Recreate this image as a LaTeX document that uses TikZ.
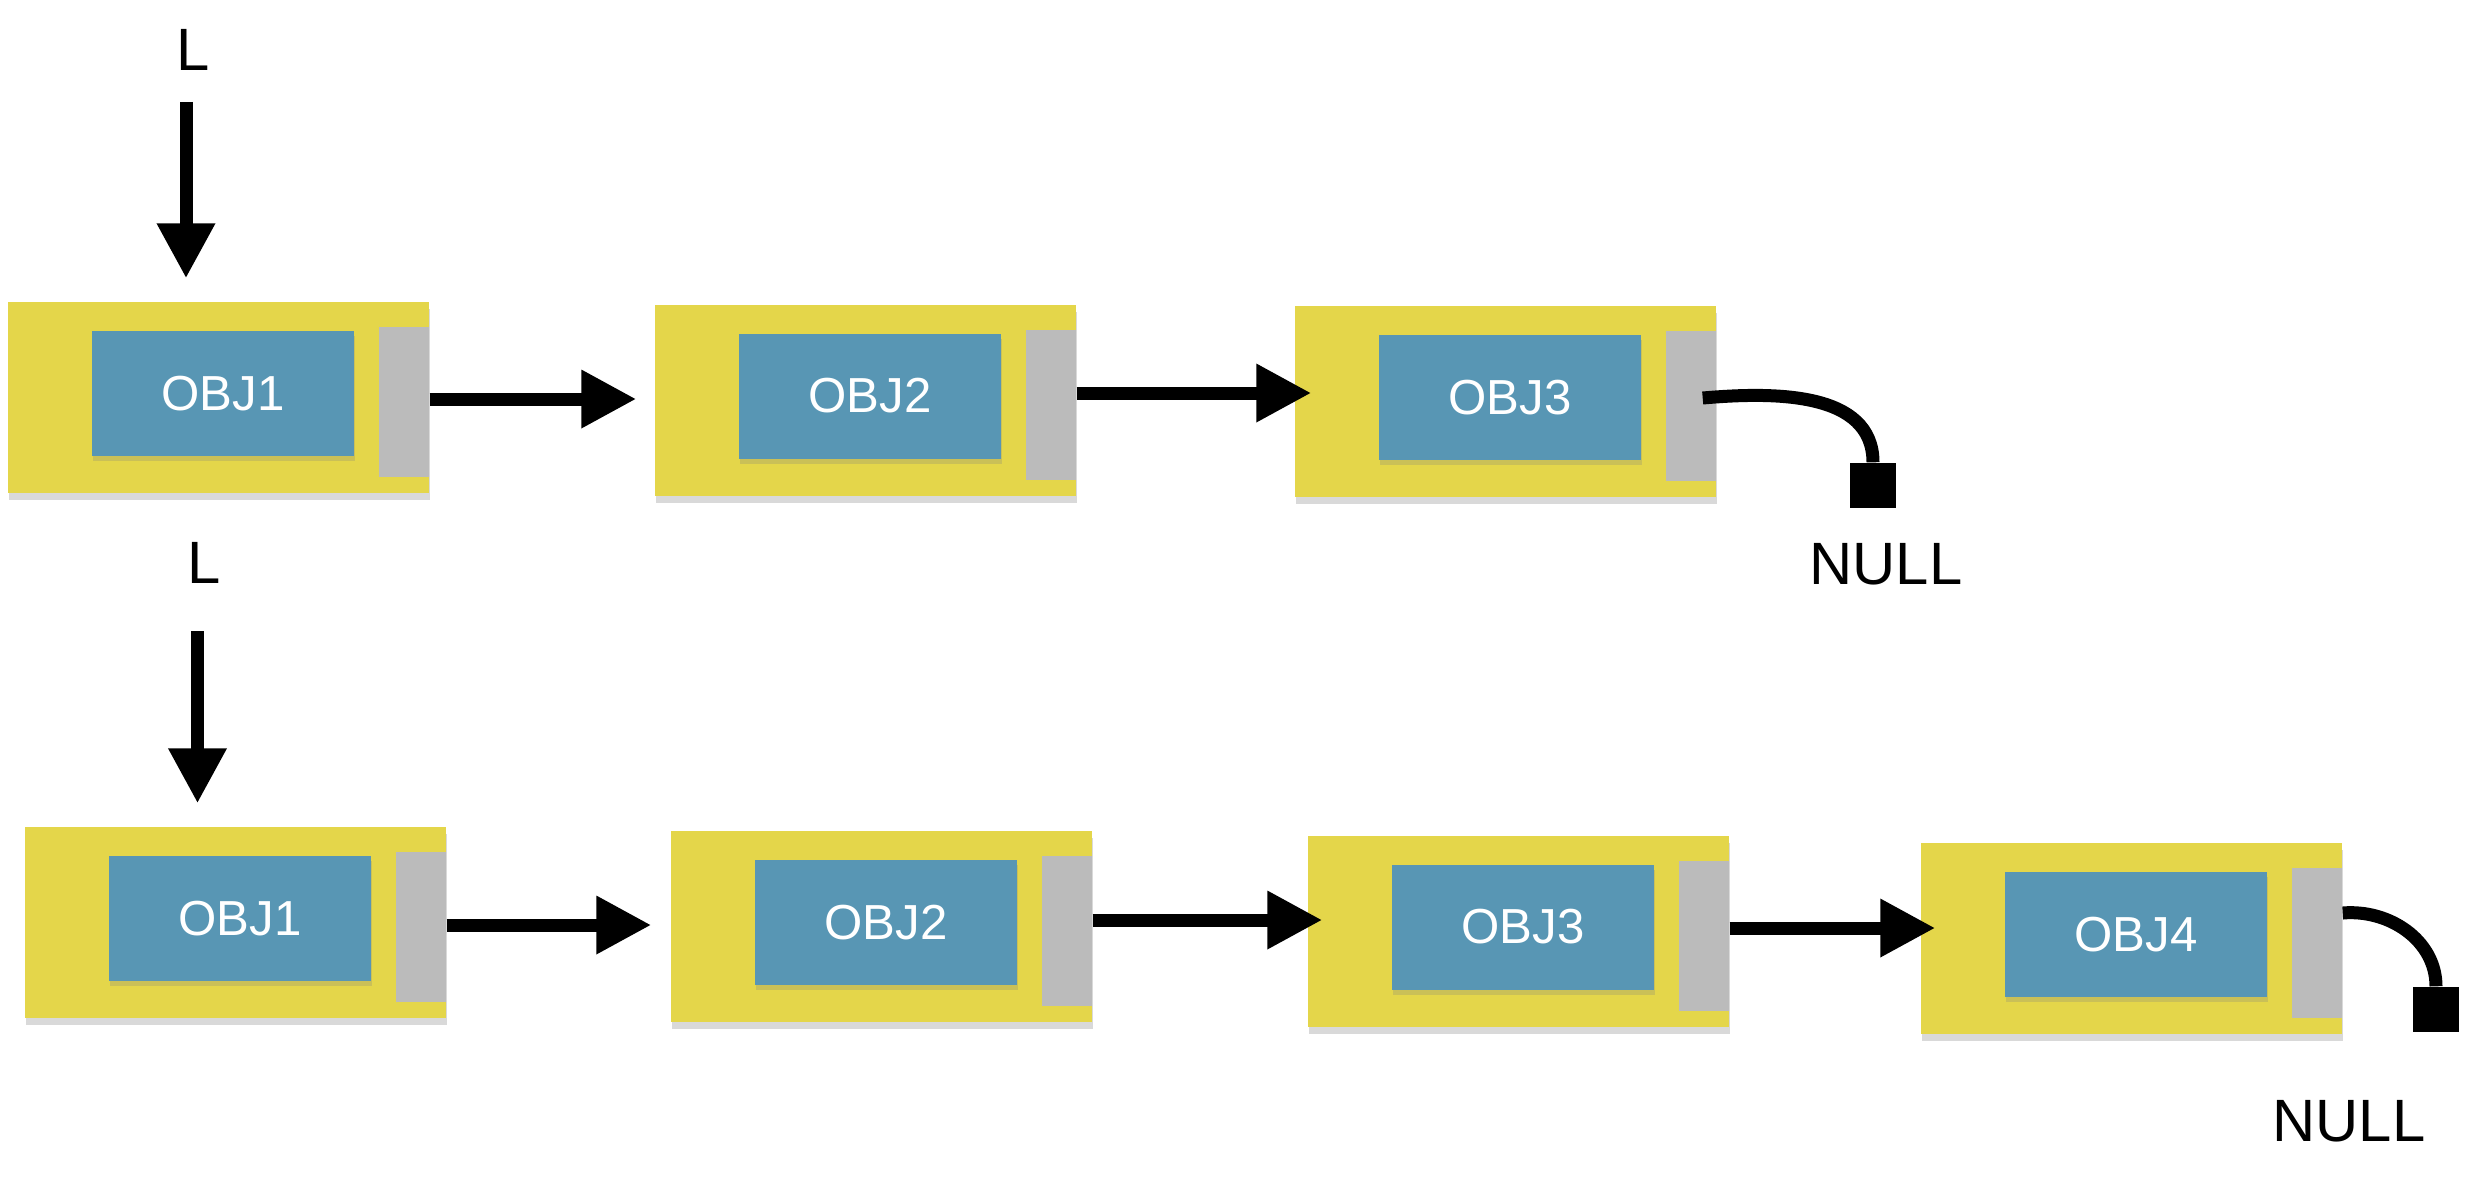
\documentclass[tikz,border=0pt]{standalone}
\usepackage{fontspec}
\setmainfont{Liberation Sans}
\usetikzlibrary{arrows.meta,shadows}
\definecolor{cellyellow}{HTML}{E4D64A}
\definecolor{objblue}{HTML}{5896B4}
\definecolor{ptrgray}{HTML}{BBBBBB}
\tikzstyle{list_node}=[rectangle,
                       minimum width=4.21cm,
                       minimum height=1.91cm,
                       inner sep=0,
                       fill=cellyellow,
                       drop shadow={shadow xshift=0.01cm, shadow yshift=-0.07cm, opacity=0.3}]
\tikzstyle{obj_box}=[rectangle,
                     minimum width=2.62cm,
                     minimum height=1.25cm,
                     inner sep=0,
                     fill=objblue,
                     text=white,
                     font=\fontsize{14}{16}\selectfont,
                     drop shadow={shadow xshift=0.01cm, shadow yshift=-0.05cm, opacity=0.25}]
\tikzstyle{next_field}=[rectangle,
                        minimum width=0.5cm,
                        minimum height=1.5cm,
                        inner sep=0,
                        fill=ptrgray]
\tikzstyle{null_end}=[rectangle,
                      minimum width=0.46cm,
                      minimum height=0.45cm,
                      inner sep=0,
                      fill=black]
\tikzstyle{label_text}=[inner sep=0, font=\fontsize{17}{20}\selectfont]
\tikzstyle{pointer}=[line width=0.13cm, -{Triangle[length=0.55cm, width=0.55cm]}]
\tikzstyle{to_null}=[line width=0.13cm]

\begin{document}
\begin{tikzpicture}
  \useasboundingbox (0,0) rectangle (24.79,-11.85);

  % list with three elements
  \foreach \i/\x/\y in {1/2.185/-3.975, 2/8.655/-4.0, 3/15.055/-4.015} {
    \node at (\x, \y) (A\i) [list_node] {};
    \node at ([xshift=0.045cm, yshift=0.04cm]A\i.center) (Ao\i) [obj_box] {OBJ\i};
    \node at ([xshift=1.855cm, yshift=-0.045cm]A\i.center) (Ap\i) [next_field] {};
  }

  % list with four elements
  \foreach \i/\x/\y in {1/2.355/-9.225, 2/8.815/-9.265, 3/15.185/-9.31, 4/21.315/-9.385} {
    \node at (\x, \y) (B\i) [list_node] {};
    \node at ([xshift=0.045cm, yshift=0.04cm]B\i.center) (Bo\i) [obj_box] {OBJ\i};
    \node at ([xshift=1.855cm, yshift=-0.045cm]B\i.center) (Bp\i) [next_field] {};
  }

  \node at (1.935, -0.495) (L1) [label_text] {L};
  \node at (2.04, -5.63) (L2) [label_text] {L};
  \node at (18.73, -4.855) (T1) [null_end] {};
  \node at (24.36, -10.095) (T2) [null_end] {};
  \node at (18.86, -5.64) (N1) [label_text] {NULL};
  \node at (23.49, -11.21) (N2) [label_text] {NULL};

  \draw[pointer, shorten <=0.31cm, shorten >=0.23cm] ([xshift=-0.075cm]L1.south) -- ([xshift=-0.075cm]L1.south |- A1.north);
  \draw[pointer, shorten <=0.47cm, shorten >=0.23cm] ([xshift=-0.065cm]L2.south) -- ([xshift=-0.065cm]L2.south |- B1.north);

  \draw[pointer, shorten >=0.18cm] ([yshift=0.03cm]Ap1.east) -- ([yshift=0.03cm]Ap1.east -| A2.west);
  \draw[pointer, shorten >=-0.17cm] ([yshift=0.115cm]Ap2.east) -- ([yshift=0.115cm]Ap2.east -| A3.west);
  \draw[to_null] ([xshift=-0.14cm, yshift=0.08cm]Ap3.east) to[out=5, in=90] (T1.north);

  \draw[pointer, shorten >=0.19cm] ([yshift=0.02cm]Bp1.east) -- ([yshift=0.02cm]Bp1.east -| B2.west);
  \draw[pointer, shorten >=-0.15cm] ([yshift=0.11cm]Bp2.east) -- ([yshift=0.11cm]Bp2.east -| B3.west);
  \draw[pointer, shorten >=-0.15cm] ([yshift=0.075cm]Bp3.east) -- ([yshift=0.075cm]Bp3.east -| B4.west);
  \draw[to_null] ([yshift=0.3cm]Bp4.east) to[out=5, in=90] (T2.north);
\end{tikzpicture}
\end{document}
